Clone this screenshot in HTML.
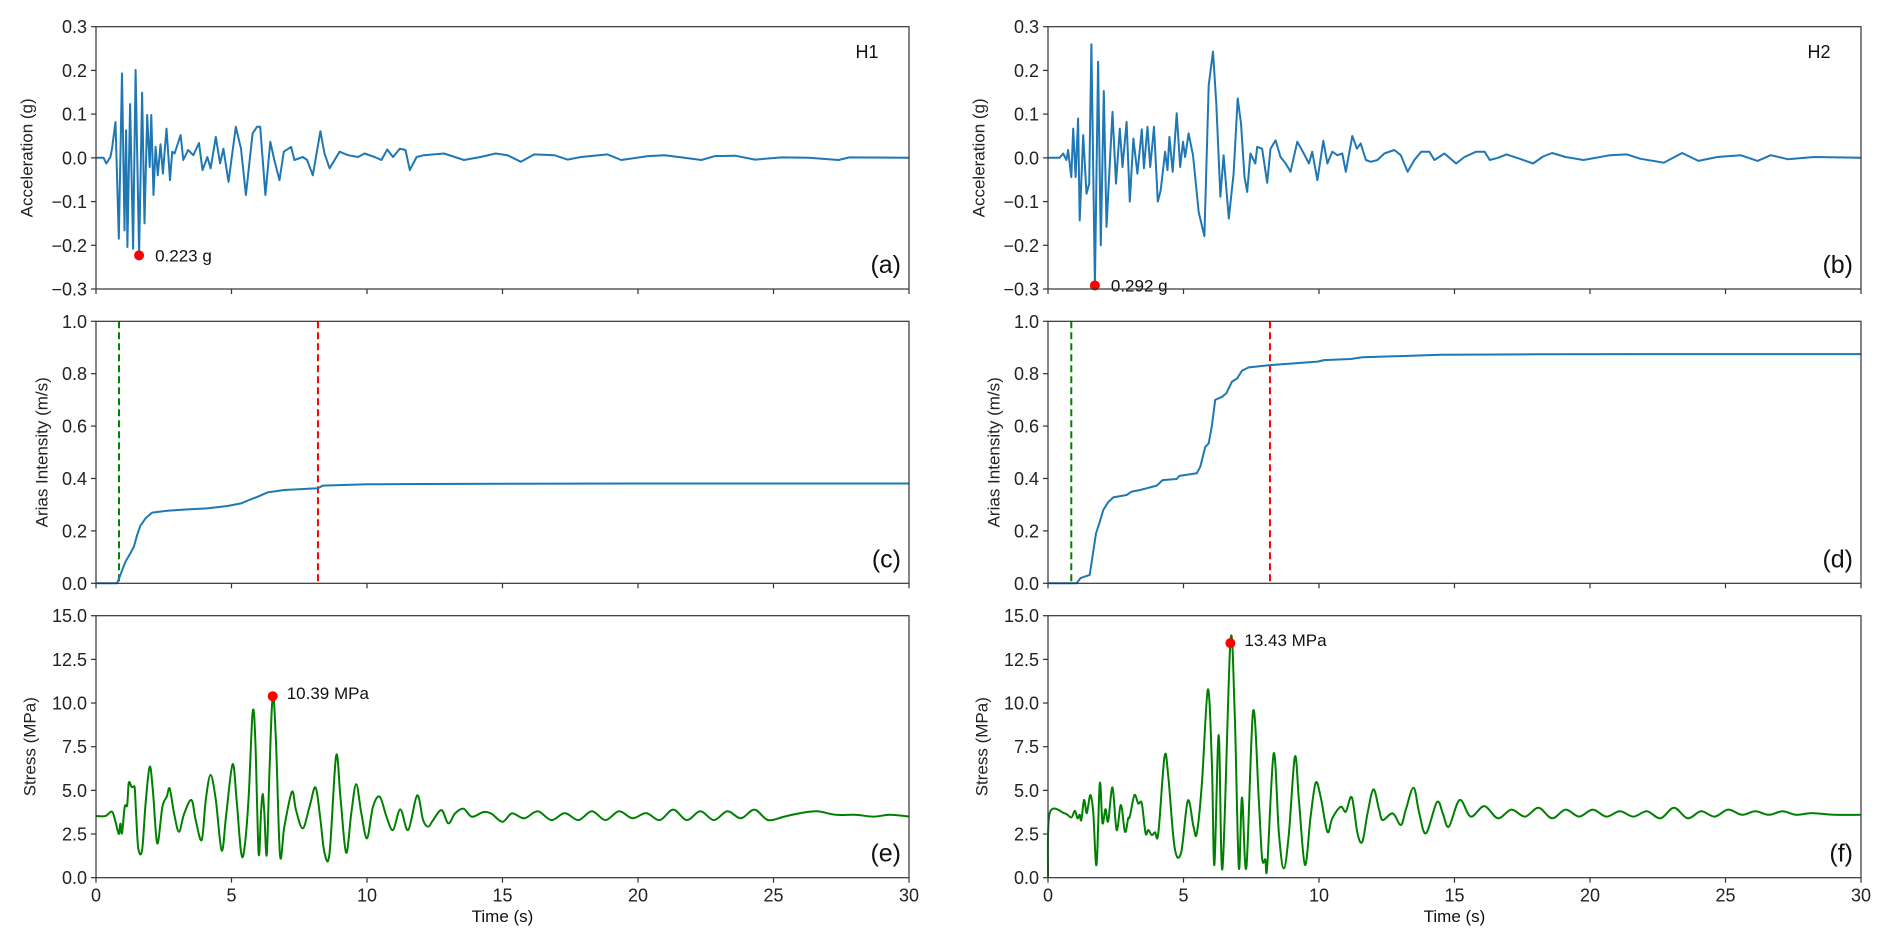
<!DOCTYPE html>
<html><head><meta charset="utf-8"><style>
html,body{margin:0;padding:0;background:#fff;}
svg{display:block;font-family:"Liberation Sans","DejaVu Sans",sans-serif;}
</style></head><body>
<svg id="fig" width="1892" height="946" viewBox="0 0 1892 946" xmlns="http://www.w3.org/2000/svg"></svg>
<script>
// ---- data (time s, value) ----
const accH1T=[0,0.28,0.38,0.53,0.59,0.72,0.84,0.96,1.05,1.11,1.16,1.26,1.37,1.46,1.59,1.70,1.79,1.89,1.98,2.04,2.12,2.2,2.28,2.38,2.47,2.6,2.73,2.81,2.9,3.12,3.22,3.4,3.59,3.8,3.93,4.11,4.23,4.42,4.58,4.7,4.89,5.16,5.35,5.53,5.78,5.94,6.06,6.25,6.43,6.58,6.77,6.93,7.2,7.32,7.63,7.79,8.0,8.28,8.43,8.62,8.99,9.3,9.67,9.91,10.28,10.53,10.75,10.96,11.21,11.42,11.58,11.83,12.1,12.84,13.58,14.19,14.75,15.18,15.68,16.17,16.91,17.4,17.9,18.88,19.38,20.37,20.98,21.6,22.34,22.84,23.58,24.32,25.3,26.3,27.4,27.8,30];
const accH1V=[0,0,-0.013,0.002,0.021,0.082,-0.185,0.193,-0.166,0.063,-0.204,0.123,-0.208,0.201,-0.223,0.149,-0.150,0.098,-0.021,0.098,-0.085,0.025,-0.04,0.031,-0.036,0.067,-0.051,0.014,0.01,0.052,-0.005,0.018,0.006,0.034,-0.028,0.002,-0.024,0.048,-0.013,0.021,-0.055,0.071,0.021,-0.085,0.056,0.071,0.071,-0.085,0.037,-0.005,-0.051,0.014,0.025,-0.005,0.002,-0.005,-0.04,0.061,0.01,-0.024,0.014,0.006,0.002,0.01,0.002,-0.005,0.019,0.002,0.021,0.018,-0.028,0.002,0.006,0.01,-0.005,0.002,0.01,0.006,-0.009,0.008,0.006,-0.004,0.002,0.008,-0.005,0.004,0.006,0.001,-0.005,0.004,0.005,-0.004,0.001,0,-0.005,0.001,0];
const accH2T=[0,0.43,0.56,0.68,0.74,0.86,0.93,1.02,1.11,1.17,1.3,1.42,1.52,1.6,1.73,1.85,1.95,2.06,2.16,2.38,2.51,2.65,2.75,2.9,3.02,3.15,3.3,3.46,3.54,3.67,3.77,3.91,4.05,4.16,4.32,4.41,4.48,4.6,4.75,4.88,4.98,5.06,5.19,5.35,5.56,5.77,5.93,6.09,6.21,6.36,6.48,6.67,6.85,7.0,7.12,7.25,7.35,7.47,7.65,7.72,7.9,8.09,8.21,8.4,8.58,8.77,8.95,9.2,9.44,9.63,9.75,9.94,10.16,10.31,10.49,10.68,10.86,10.99,11.23,11.4,11.54,11.73,11.91,12.16,12.41,12.78,13.02,13.27,13.52,13.77,14.07,14.26,14.63,15.06,15.37,15.8,16.11,16.3,16.6,16.92,17.4,17.9,18.27,18.6,19.1,19.76,20.74,21.36,21.85,22.72,23.4,24.0,24.7,25.56,26.18,26.67,27.3,28.27,30];
const accH2V=[0,0,0.01,-0.005,0.018,-0.044,0.067,-0.044,0.09,-0.143,0.052,-0.082,-0.059,0.26,-0.292,0.22,-0.2,0.153,-0.158,0.105,-0.059,0.067,-0.021,0.082,-0.1,0.044,-0.036,0.065,-0.024,0.071,-0.021,0.071,-0.1,-0.074,0.014,-0.028,0.048,-0.032,0.102,-0.021,0.037,0.002,0.056,0.006,-0.124,-0.179,0.166,0.243,0.124,-0.089,0.006,-0.139,-0.036,0.136,0.079,-0.044,-0.078,0.01,-0.013,0.025,0.021,-0.057,0.021,0.04,0.002,-0.013,-0.032,0.037,0.01,-0.013,0.014,-0.051,0.039,-0.013,0.014,0.006,0.01,-0.032,0.05,0.021,0.033,-0.005,-0.009,-0.005,0.01,0.018,0.006,-0.032,-0.005,0.014,0.014,-0.005,0.01,-0.013,0.002,0.014,0.014,-0.005,0,0.008,-0.002,-0.013,0.003,0.011,0.002,-0.005,0.006,0.008,-0.002,-0.011,0.011,-0.007,0.002,0.006,-0.007,0.006,-0.003,0.002,0];
const ariasH1T=[0,0.78,0.93,1.09,1.27,1.4,1.52,1.64,1.83,2.07,2.63,3.37,4.1,4.85,5.35,5.65,5.96,6.33,6.95,8.19,8.37,10.04,12,15,20,25,30];
const ariasH1V=[0,0,0.04,0.083,0.115,0.14,0.185,0.22,0.248,0.27,0.277,0.282,0.286,0.295,0.305,0.318,0.33,0.347,0.356,0.363,0.373,0.378,0.379,0.380,0.381,0.381,0.381];
const ariasH2T=[0,1.05,1.2,1.54,1.64,1.77,1.91,2.04,2.22,2.41,2.9,3.09,3.4,4.01,4.23,4.75,4.85,5.49,5.62,5.8,5.93,6.05,6.17,6.42,6.58,6.79,6.98,7.16,7.41,8.19,9.94,10.19,11.17,11.6,13.27,14.5,18,22,30];
const ariasH2V=[0,0,0.02,0.032,0.1,0.19,0.235,0.28,0.31,0.328,0.337,0.35,0.356,0.373,0.394,0.398,0.41,0.42,0.445,0.52,0.534,0.604,0.70,0.712,0.725,0.77,0.782,0.812,0.824,0.833,0.846,0.852,0.856,0.863,0.868,0.872,0.874,0.875,0.875];
const stressH1T=[0,0.35,0.59,0.72,0.84,0.9,0.96,1.06,1.15,1.21,1.31,1.37,1.43,1.48,1.56,1.70,1.83,1.98,2.1,2.26,2.45,2.61,2.72,2.88,3.06,3.25,3.52,3.68,3.9,4.05,4.23,4.42,4.64,4.81,5.04,5.19,5.35,5.47,5.63,5.78,5.88,6.0,6.09,6.15,6.21,6.3,6.4,6.52,6.64,6.79,6.95,7.23,7.38,7.63,7.88,8.1,8.27,8.43,8.62,8.86,9.02,9.23,9.42,9.6,9.79,10.0,10.22,10.47,10.72,10.96,11.23,11.52,11.85,12.07,12.26,12.44,12.75,13.0,13.25,13.56,13.87,14.3,14.6,15.0,15.35,15.8,16.3,16.8,17.3,17.8,18.3,18.8,19.3,19.8,20.3,20.8,21.3,21.8,22.3,22.8,23.3,23.8,24.3,24.8,25.4,26,26.6,27.3,28,28.7,29.3,30];
const stressH1V=[3.53,3.53,3.78,3.2,2.5,3.1,2.55,4.06,4.15,5.44,5.2,5.2,5.1,3.65,1.68,1.58,4.25,6.35,4.98,1.97,4.06,4.63,5.1,3.7,2.63,3.65,4.45,3.3,2.16,4.46,5.88,4.46,1.55,3.7,6.5,4.46,1.5,1.58,4.56,9.45,7.88,1.4,3.74,4.79,3.74,1.3,5.97,10.4,7.88,1.3,2.9,4.92,3.87,2.82,4.06,5.17,3.48,1.43,1.43,6.97,4.63,1.43,3.7,5.36,3.7,2.25,4.06,4.64,3.49,2.73,3.91,2.73,4.71,3.3,2.92,3.3,3.87,3.11,3.68,3.95,3.49,3.76,3.65,3.2,3.68,3.4,3.8,3.3,3.7,3.3,3.8,3.3,3.8,3.4,3.7,3.3,3.9,3.3,3.8,3.3,3.8,3.4,3.9,3.3,3.5,3.7,3.8,3.6,3.6,3.5,3.6,3.5];
const stressH2T=[0,0.06,0.62,0.86,0.99,1.09,1.17,1.23,1.33,1.42,1.48,1.57,1.67,1.79,1.91,2.01,2.12,2.22,2.38,2.53,2.69,2.84,2.96,3.02,3.19,3.33,3.46,3.6,3.7,3.83,3.95,4.07,4.3,4.44,4.67,4.91,5.16,5.37,5.49,5.68,5.9,6.05,6.14,6.3,6.44,6.73,6.89,7.04,7.16,7.32,7.57,7.78,7.9,8.02,8.09,8.33,8.52,8.7,8.89,9.11,9.26,9.48,9.69,9.88,10.06,10.31,10.49,10.8,10.99,11.21,11.42,11.6,11.79,12.01,12.22,12.35,12.72,13.02,13.2,13.49,13.7,13.95,14.35,14.57,14.79,15.19,15.6,16.1,16.6,17.1,17.6,18.1,18.6,19.1,19.6,20.1,20.6,21.1,21.6,22.1,22.6,23.1,23.6,24.1,24.6,25.1,25.6,26.1,26.6,27.1,27.6,28.2,29,30];
const stressH2V=[0,3.68,3.68,3.45,3.83,3.4,3.6,3.3,4.45,3.7,4.08,4.73,3.7,0.73,5.4,3.13,3.93,3.23,5.17,2.73,4.16,2.63,3.4,3.5,4.73,4.25,4.25,2.54,2.73,2.44,2.6,2.54,6.93,5.78,1.74,1.43,4.41,2.92,2.54,5.4,10.78,6.35,0.73,8.17,0.53,13.51,9.41,0.59,4.6,0.59,9.54,4.45,1.1,1.05,0.63,7.12,2.54,0.53,2.54,6.93,4.45,0.73,3.5,5.44,4.64,2.63,3.4,4.06,3.78,4.6,2.54,2.06,3.68,5.06,3.87,3.3,3.68,3.02,3.87,5.15,3.68,2.54,4.33,3.68,2.92,4.45,3.5,4.1,3.4,3.9,3.5,4.0,3.4,3.9,3.5,3.9,3.5,3.8,3.5,3.8,3.4,4.0,3.4,3.8,3.5,3.9,3.6,3.8,3.6,3.8,3.6,3.7,3.6,3.6];
const xTicks=[0,5,10,15,20,25,30];
const accTicks=[-0.3,-0.2,-0.1,0.0,0.1,0.2,0.3];
const ariasTicks=[0,0.2,0.4,0.6,0.8,1.0];
const stressTicks=[0,2.5,5,7.5,10,12.5,15];
const onsetT=[0.85,0.86];
const endT=[8.19,8.19];

const NS='http://www.w3.org/2000/svg';
const svg=document.getElementById('fig');
function mk(tag,attrs,parent){const e=document.createElementNS(NS,tag);for(const k in attrs)e.setAttribute(k,attrs[k]);(parent||svg).appendChild(e);return e;}
const cols=[96,1048], W=813;
const rows=[[26.7,289],[321.3,583.3],[615.7,877.7]];
function panel(ci,ri,ymin,ymax,yticks,fmt,ylab,ylabX,name,xlabels){
  const x0=cols[ci],y0=rows[ri][0],y1=rows[ri][1];
  const g=mk('g',{});
  
  
  const sx=t=>x0+t/30*W;
  const sy=v=>y1-(v-ymin)/(ymax-ymin)*(y1-y0);
  xTicks.forEach(t=>{
    const tk=mk('line',{x1:sx(t),x2:sx(t),y1:y1,y2:y1+5,stroke:'#333','stroke-width':1.2},g);
    
    
    if(xlabels){const tx=mk('text',{x:sx(t),y:y1+24,'font-size':18,'text-anchor':'middle',fill:'#222'},g);tx.textContent=t;
      
      }
  });
  yticks.forEach(v=>{
    const tk=mk('line',{x1:x0-5,x2:x0,y1:sy(v),y2:sy(v),stroke:'#333','stroke-width':1.2},g);
    
    
    const tx=mk('text',{x:x0-9,y:sy(v)+6.5,'font-size':18,'text-anchor':'end',fill:'#222'},g);tx.textContent=fmt(v);
    
    
  });
  const yl=mk('text',{x:ylabX,y:(y0+y1)/2,'font-size':17,'text-anchor':'middle',fill:'#222',transform:`rotate(-90 ${ylabX} ${(y0+y1)/2})`,'dominant-baseline':'middle'},g);
  yl.textContent=ylab;
  
  
  return {g,sx,sy,x0,y0,y1};
}
function line(p,T,V,color,name,smooth){
  const P=T.map((t,i)=>[p.sx(t),p.sy(V[i])]);
  let d='M'+P[0][0].toFixed(1)+','+P[0][1].toFixed(1);
  for(let i=1;i<P.length;i++){
    if(smooth){
      const a=P[Math.max(0,i-2)],b=P[i-1],c=P[i],e=P[Math.min(P.length-1,i+1)];
      const c1=[b[0]+(c[0]-a[0])/6,b[1]+(c[1]-a[1])/6],c2=[c[0]-(e[0]-b[0])/6,c[1]-(e[1]-b[1])/6];
      d+='C'+c1[0].toFixed(1)+','+c1[1].toFixed(1)+' '+c2[0].toFixed(1)+','+c2[1].toFixed(1)+' '+c[0].toFixed(1)+','+c[1].toFixed(1);
    } else d+='L'+P[i][0].toFixed(1)+','+P[i][1].toFixed(1);
  }
  const el=mk('path',{d,fill:'none',stroke:color,'stroke-width':2,'stroke-linejoin':'round'},p.g);
  
  
}
function frame(p){const r=mk('rect',{x:p.x0,y:p.y0,width:W,height:p.y1-p.y0,fill:'none',stroke:'#333','stroke-width':1.2},p.g);
  
  }
function label(p,txt,x,y,size,anchor,name){const t=mk('text',{x,y,'font-size':size,'text-anchor':anchor,fill:'#111'},p.g);t.textContent=txt;
  
  }
function dot(p,t,v,name){const c=mk('circle',{cx:p.sx(t),cy:p.sy(v),r:5,fill:'#ff0000'},p.g);
  
  }
function vline(p,t,color,name){const l=mk('line',{x1:p.sx(t),x2:p.sx(t),y1:p.y0,y2:p.y1,stroke:color,'stroke-width':2,'stroke-dasharray':'7,4'},p.g);
  
  }

const f1=v=>(v<0?'\u2212':'')+Math.abs(v).toFixed(1);
const acc=[accH1T,accH1V,accH2T,accH2V], ar=[ariasH1T,ariasH1V,ariasH2T,ariasH2V], st=[stressH1T,stressH1V,stressH2T,stressH2V];
const tags=[['H1','(a)','(c)','(e)'],['H2','(b)','(d)','(f)']];
const pk=[[1.59,-0.223,'0.223 g',6.52,10.39,'10.39 MPa'],[1.73,-0.292,'0.292 g',6.73,13.43,'13.43 MPa']];
for(let c=0;c<2;c++){
  const off=c*952;
  const pa=panel(c,0,-0.3,0.3,accTicks,f1,'Acceleration (g)',28+off,'acceleration-panel-'+tags[c][0].toLowerCase(),false);
  line(pa,acc[2*c],acc[2*c+1],'#1f77b4','acceleration-line',false);
  dot(pa,pk[c][0],pk[c][1],'peak-acceleration-marker');
  label(pa,pk[c][2],pa.sx(pk[c][0])+16,pa.sy(pk[c][1])+6,17,'start','peak-acceleration-label');
  label(pa,tags[c][0],cols[c]+W-42,58,18,'middle','record-label');
  label(pa,tags[c][1],cols[c]+W-8,pa.y1-16,25,'end','panel-letter');
  frame(pa);
  const pb=panel(c,1,0,1,ariasTicks,v=>v.toFixed(1),'Arias Intensity (m/s)',43+off,'arias-panel-'+tags[c][0].toLowerCase(),false);
  vline(pb,onsetT[c],'#008000','onset-5pct-line');
  vline(pb,endT[c],'#ff0000','end-95pct-line');
  line(pb,ar[2*c],ar[2*c+1],'#1f77b4','arias-line',false);
  label(pb,tags[c][2],cols[c]+W-8,pb.y1-16,25,'end','panel-letter');
  frame(pb);
  const ps=panel(c,2,0,15,stressTicks,v=>v.toFixed(1),'Stress (MPa)',31+off,'stress-panel-'+tags[c][0].toLowerCase(),true);
  line(ps,st[2*c],st[2*c+1],'#008000','stress-line',true);
  dot(ps,pk[c][3],pk[c][4],'peak-stress-marker');
  label(ps,pk[c][5],ps.sx(pk[c][3])+14,ps.sy(pk[c][4])+3,17,'start','peak-stress-label');
  label(ps,tags[c][3],cols[c]+W-8,ps.y1-16,25,'end','panel-letter');
  frame(ps);
  label(ps,'Time (s)',cols[c]+W/2,922,17,'middle','x-axis-title');
}
</script>
</body></html>
